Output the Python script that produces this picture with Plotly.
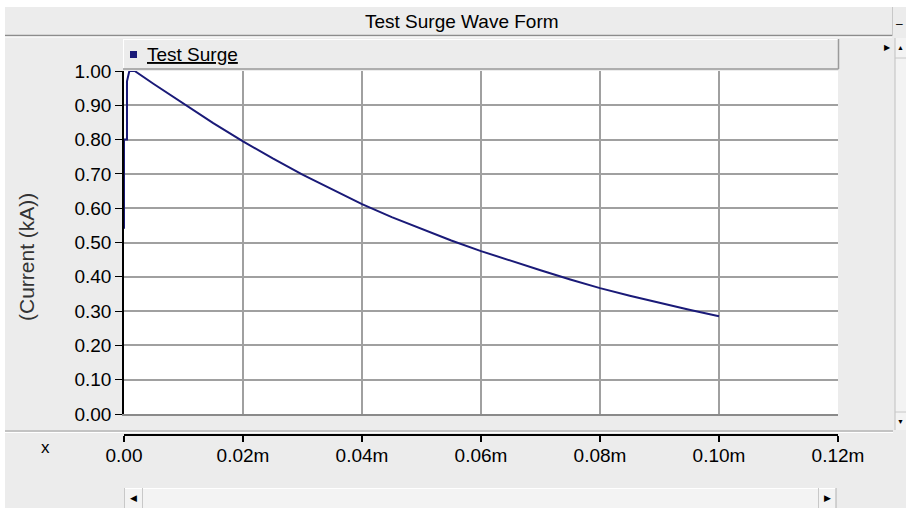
import plotly.graph_objects as go

# ---------------- data ----------------
title_text = "Test Surge Wave Form"
series_name = "Test Surge"
y_title = "(Current (kA))"

time_vals = [0.0, 0.0, 0.0005, 0.0005, 0.0009, 0.0018, 0.005, 0.010, 0.015, 0.020,
             0.025, 0.030, 0.035, 0.040, 0.045, 0.050, 0.055, 0.060, 0.065, 0.070,
             0.075, 0.080, 0.085, 0.090, 0.095, 0.100]
current_vals = [0.54, 0.80, 0.80, 0.97, 1.00, 1.00, 0.962, 0.905, 0.848, 0.795,
                0.745, 0.698, 0.654, 0.612, 0.574, 0.539, 0.506, 0.475, 0.446, 0.419,
                0.392, 0.367, 0.345, 0.324, 0.304, 0.285]

x_ticks = [0.0, 0.02, 0.04, 0.06, 0.08, 0.10, 0.12]
x_labels = ["0.00", "0.02m", "0.04m", "0.06m", "0.08m", "0.10m", "0.12m"]
y_ticks = [0.0, 0.1, 0.2, 0.3, 0.4, 0.5, 0.6, 0.7, 0.8, 0.9, 1.0]
y_labels = ["0.00", "0.10", "0.20", "0.30", "0.40", "0.50", "0.60", "0.70", "0.80", "0.90", "1.00"]

# ---------------- layout geometry ----------------
W, H = 906, 511
L, R, T, B = 124, 838, 71, 435     # plot/paper area in pixels
Y0 = 414                           # pixel of y = 0
PW, PH = R - L, B - T

def px(x):
    return (x - L) / PW

def py(y):
    return (B - y) / PH

LINE_COLOR = "#1a1a78"
GRID = "#a0a0a0"
BG = "#ececec"
ARIAL = "Liberation Sans, Arial"
TXT = "#000000"

fig = go.Figure()
fig.add_trace(go.Scatter(
    x=time_vals, y=current_vals, mode="lines", name=series_name,
    line=dict(color=LINE_COLOR, width=2), showlegend=False,
    xaxis="x", yaxis="y",
))
# helper trace so the ruler axis is drawn
fig.add_trace(go.Scatter(
    x=[x_ticks[0]], y=[None], mode="lines", xaxis="x2", yaxis="y",
    showlegend=False, hoverinfo="skip",
))

shapes = []
def rect(x0, y0, x1, y1, fill, line=None, lw=0):
    shapes.append(dict(type="rect", xref="paper", yref="paper",
                       x0=px(x0), x1=px(x1), y0=py(y0), y1=py(y1),
                       fillcolor=fill, line=dict(color=line or fill, width=lw),
                       layer="above"))

def hline(x0, x1, y, color, w=1):
    shapes.append(dict(type="line", xref="paper", yref="paper",
                       x0=px(x0), x1=px(x1), y0=py(y), y1=py(y),
                       line=dict(color=color, width=w), layer="above"))

def vline(x, y0, y1, color, w=1):
    shapes.append(dict(type="line", xref="paper", yref="paper",
                       x0=px(x), x1=px(x), y0=py(y0), y1=py(y1),
                       line=dict(color=color, width=w), layer="above"))

# white window border
rect(0, 0, W, 7, "white")
rect(0, 0, 5, H, "white")
rect(0, 508, W, H, "white")

# title bar
hline(5, 892, 35.5, "#8c8c8c", 1.5)
hline(5, 892, 37, "#ffffff", 1)
vline(892.5, 7, 36, "#c8c8c8", 1)

# right vertical scrollbar
rect(895, 38, 906, 430, "#f3f3f3")
vline(895, 38, 430, "#c0c0c0", 1)
hline(895, 906, 58, "#c8c8c8", 1)
hline(895, 906, 412, "#c8c8c8", 1)

# legend box (raised)
rect(123, 39, 838, 69, BG)
hline(123, 838, 39.5, "#ffffff", 1)
vline(123.5, 39, 69, "#ffffff", 1)
hline(123, 838.5, 69, "#9a9a9a", 1.5)
vline(838.5, 39, 69, "#9a9a9a", 1.5)
rect(130, 51, 137, 58, LINE_COLOR)

# separator above the ruler
hline(5, 893, 431, "#9a9a9a", 1.2)
hline(5, 893, 432.5, "#ffffff", 1)

# bottom scrollbar
rect(124, 488, 836, 508, "#f3f3f3")
hline(124, 836, 488.5, "#ffffff", 1)
vline(124.5, 488, 508, "#c8c8c8", 1)
vline(142.5, 488, 508, "#c8c8c8", 1)
vline(818.5, 488, 508, "#c8c8c8", 1)
vline(836, 488, 508, "#b0b0b0", 1)

annotations = [
    dict(text=title_text, x=px(462), y=py(21), xref="paper", yref="paper",
         showarrow=False, font=dict(family=ARIAL, size=19, color=TXT),
         xanchor="center", yanchor="middle"),
    dict(text="<u>" + series_name + "</u>", x=px(145), y=py(55), xref="paper", yref="paper",
         showarrow=False, font=dict(family=ARIAL, size=19, color=TXT),
         xanchor="left", yanchor="middle"),
    dict(text=y_title, x=px(26), y=py(257), xref="paper", yref="paper",
         showarrow=False, textangle=-90, font=dict(family=ARIAL, size=21, color="#333333"),
         xanchor="center", yanchor="middle"),
    dict(text="x", x=px(45), y=py(447), xref="paper", yref="paper",
         showarrow=False, font=dict(family=ARIAL, size=17, color=TXT),
         xanchor="center", yanchor="middle"),
    dict(text="–", x=px(900), y=py(24), xref="paper", yref="paper",
         showarrow=False, font=dict(family=ARIAL, size=12, color=TXT),
         xanchor="center", yanchor="middle"),
    dict(text="▶", x=px(887), y=py(47), xref="paper", yref="paper",
         showarrow=False, font=dict(family=ARIAL, size=8, color=TXT),
         xanchor="center", yanchor="middle"),
    dict(text="▲", x=px(901), y=py(47), xref="paper", yref="paper",
         showarrow=False, font=dict(family=ARIAL, size=7, color=TXT),
         xanchor="center", yanchor="middle"),
    dict(text="▼", x=px(901), y=py(421), xref="paper", yref="paper",
         showarrow=False, font=dict(family=ARIAL, size=7, color=TXT),
         xanchor="center", yanchor="middle"),
    dict(text="◀", x=px(133), y=py(498), xref="paper", yref="paper",
         showarrow=False, font=dict(family=ARIAL, size=9, color=TXT),
         xanchor="center", yanchor="middle"),
    dict(text="▶", x=px(827), y=py(498), xref="paper", yref="paper",
         showarrow=False, font=dict(family=ARIAL, size=9, color=TXT),
         xanchor="center", yanchor="middle"),
]

fig.update_layout(
    width=W, height=H,
    margin=dict(l=L, r=W - R, t=T, b=H - B, pad=0),
    paper_bgcolor=BG, plot_bgcolor="white",
    showlegend=False,
    shapes=shapes, annotations=annotations,
    xaxis=dict(
        range=[x_ticks[0], x_ticks[-1]], tickvals=x_ticks, showticklabels=False,
        ticks="", showgrid=True, gridcolor=GRID, gridwidth=2,
        showline=True, linecolor="#8a8a8a", linewidth=2, zeroline=False,
        anchor="y", fixedrange=True,
    ),
    xaxis2=dict(
        overlaying="x", anchor="free", position=0, side="bottom",
        range=[x_ticks[0], x_ticks[-1]], tickvals=x_ticks, ticktext=x_labels,
        ticks="outside", ticklen=6, tickwidth=1.5, tickcolor="black",
        showline=True, linecolor="black", linewidth=2, showgrid=False, zeroline=False,
        ticklabelstandoff=-3,
        tickfont=dict(family=ARIAL, size=19, color=TXT),
    ),
    yaxis=dict(
        domain=[(B - Y0) / PH, 1], range=[y_ticks[0], y_ticks[-1]],
        tickvals=y_ticks, ticktext=y_labels,
        ticks="outside", ticklen=7, tickwidth=1.2, tickcolor="black",
        showline=True, linecolor="black", linewidth=1.5,
        showgrid=True, gridcolor=GRID, gridwidth=2, zeroline=False,
        tickfont=dict(family=ARIAL, size=19, color=TXT),
    ),
)

fig.write_html("out.html")
